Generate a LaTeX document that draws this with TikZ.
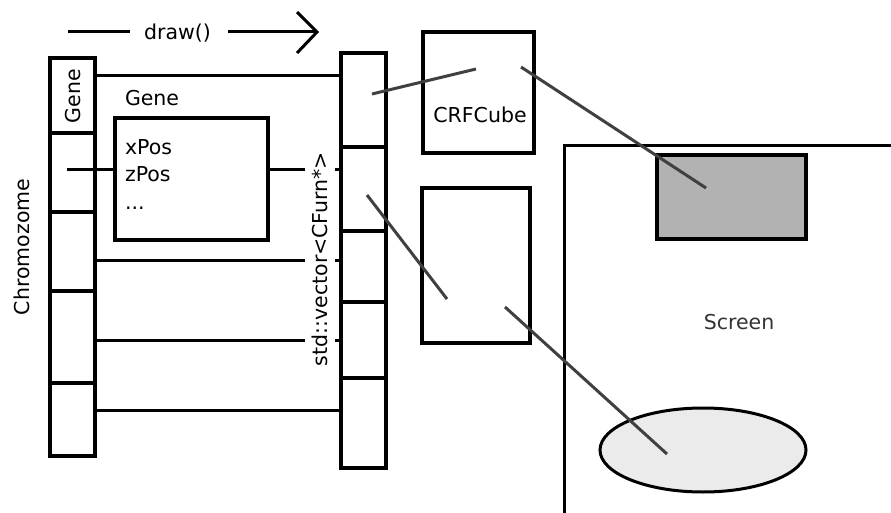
\documentclass[tikz,border=0pt]{standalone}
\usepackage{fontspec}
\setmainfont{DejaVu Sans}
\usetikzlibrary{calc,shapes.geometric}
\begin{document}
\begin{tikzpicture}[x=1pt,y=-1pt,
  cell/.style={draw, line width=3.5pt, minimum width=45pt, inner sep=0pt, outer sep=0pt},
  box/.style={draw, line width=3.5pt, inner sep=0pt, outer sep=0pt},
  conn/.style={line width=3pt},
  ray/.style={line width=3pt, draw=black!75},
  lbl/.style={font=\fontsize{20.5}{24}\selectfont, inner sep=0pt, outer sep=0pt},
]
\useasboundingbox (0,0) rectangle (891,513);

% draw() arrow
\coordinate (a0) at (68,32);
\coordinate (a1) at (130,32);
\coordinate (a2) at (228,32);
\coordinate (a3) at (317,32);
\coordinate (a4) at (297,12);
\coordinate (a5) at (297,53);
\node[lbl, anchor=base] (drawlbl) at (177.5,40) {draw()};
\draw[conn] (a0) -- (a1);
\draw[conn] (a2) -- (a3);
\draw[conn, line join=miter] (a4) -- (a3) -- (a5);

% Chromozome column
\node[cell, minimum height=75pt] (c1) at (72.5,95.5) {};
\node[cell, minimum height=79pt] (c2) at (72.5,172.5) {};
\node[cell, minimum height=79pt] (c3) at (72.5,251.5) {};
\node[cell, minimum height=92pt] (c4) at (72.5,337) {};
\node[cell, minimum height=73pt] (c5) at (72.5,419.5) {};
\node[lbl, rotate=90] (genev) at (73,96) {Gene};
\node[lbl, rotate=90] (chromo) at (22,247) {Chromozome};

% vector column
\node[cell, minimum height=94pt] (v1) at (363.5,100) {};
\node[cell, minimum height=84pt] (v2) at (363.5,189) {};
\node[cell, minimum height=71pt] (v3) at (363.5,266.5) {};
\node[cell, minimum height=76pt] (v4) at (363.5,340) {};
\node[cell, minimum height=90pt] (v5) at (363.5,423) {};

% Gene box
\node[lbl, anchor=base west] (genelbl) at (125,106) {Gene};
\node[box, minimum width=153pt, minimum height=122pt] (gbox) at (191.5,179) {};
\node[lbl, anchor=base west] (gx) at (125,155) {xPos};
\node[lbl, anchor=base west] (gz) at (125,182) {zPos};
\node[lbl, anchor=base west] (gd) at (125,209) {...};
\coordinate (g0) at (67,170);

% connectors
\draw[conn] (c1.east |- 0,76) -- (v1.west |- 0,76);
\draw[conn] (g0) -- (gbox.west |- g0);
\draw[conn] (gbox.east |- g0) -- (v2.west |- g0);
\draw[conn] (c3.east |- 0,260) -- (v3.west |- 0,260);
\draw[conn] (c4.east |- 0,340) -- (v4.west |- 0,340);
\draw[conn] (c5.east |- 0,410) -- (v5.west |- 0,410);

\node[lbl, rotate=90, fill=white, minimum height=30pt] (vec) at (320,259) {std::vector<CFurn*>};

% CRFCube and second box
\node[box, minimum width=111pt, minimum height=121pt] (cube) at (478.5,92.5) {};
\node[lbl] (cubelbl) at (480,115) {CRFCube};
\node[box, minimum width=108pt, minimum height=155pt] (furn) at (476,265.5) {};

% Screen
\draw[line width=3pt] (564,513) -- (564,146) -- (891,146);
\node[lbl, text=black!80] (screenlbl) at (739,322) {Screen};
\node[box, fill=black!30, minimum width=149pt, minimum height=84pt] (srect) at (731.5,197) {};
\node[draw, ellipse, line width=3pt, fill=black!8, minimum width=206pt, minimum height=84pt, inner sep=0pt] (sell) at (703,450) {};

% rays
\coordinate (r1) at (372,94);
\coordinate (r2) at (476,69);
\coordinate (r3) at (521,67);
\coordinate (r4) at (706,188);
\coordinate (r5) at (367,195);
\coordinate (r6) at (447,299);
\coordinate (r7) at (505,307);
\coordinate (r8) at (667,454);
\draw[ray] (r1) -- (r2);
\draw[ray] (r3) -- (r4);
\draw[ray] (r5) -- (r6);
\draw[ray] (r7) -- (r8);
\end{tikzpicture}
\end{document}
